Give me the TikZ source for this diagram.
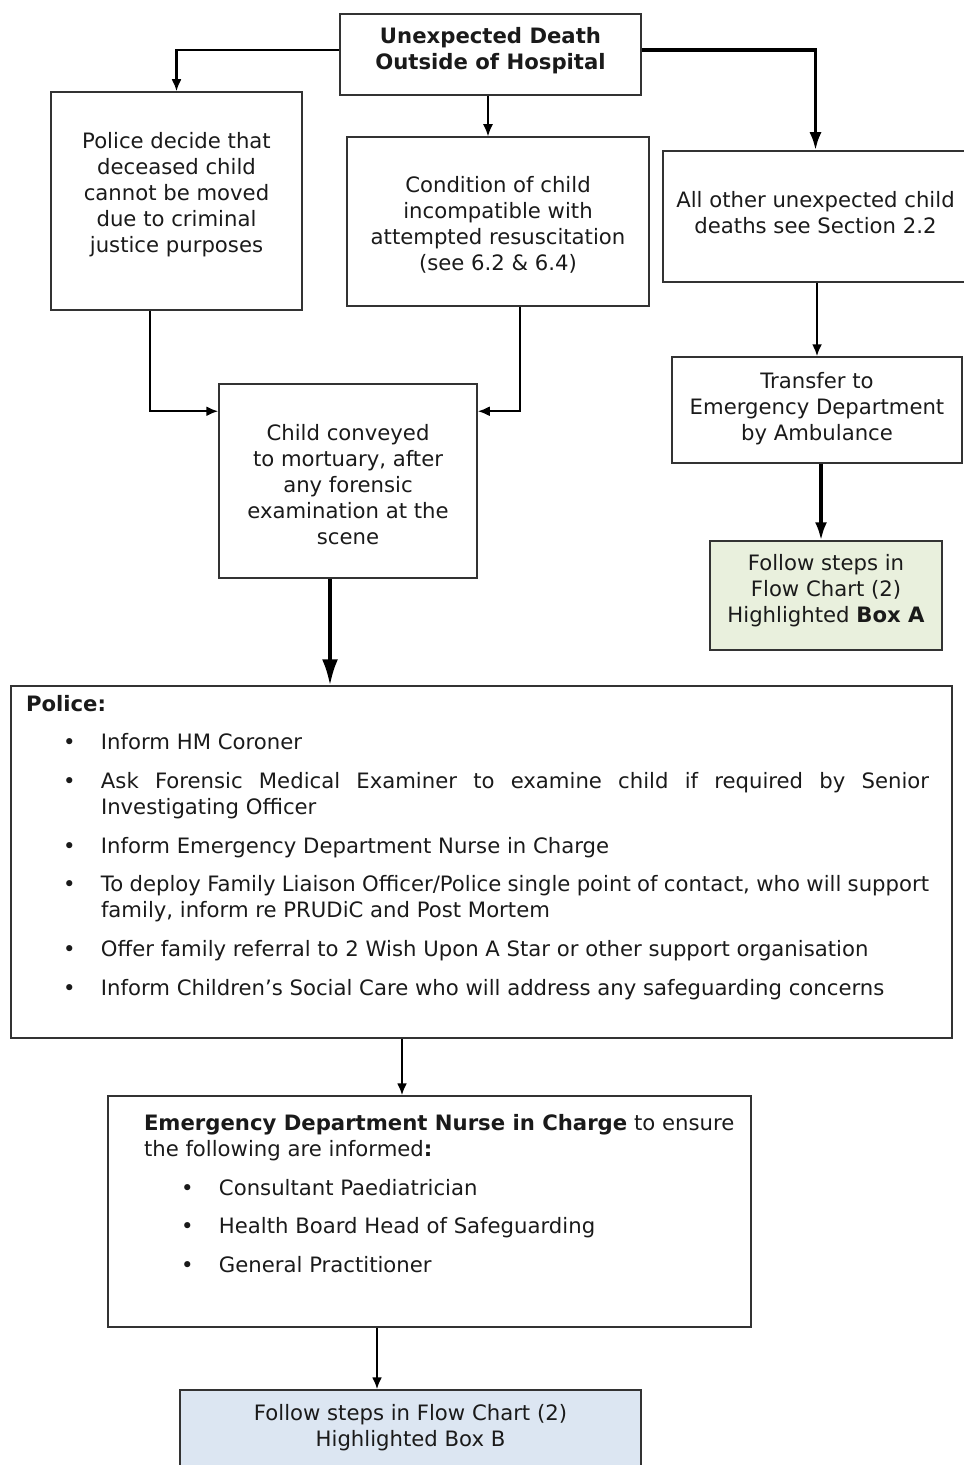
\documentclass[tikz,border=0pt]{standalone}
\usepackage{fontspec}
\setmainfont{DejaVu Sans}
\usetikzlibrary{arrows.meta}

\definecolor{boxline}{HTML}{333333}
\definecolor{textcol}{HTML}{1A1A1A}
\definecolor{boxAfill}{HTML}{E9F0DD}
\definecolor{boxBfill}{HTML}{DCE6F2}

\newcommand{\chartfont}{\fontsize{10.6}{13}\selectfont}
\newcommand{\bul}{\par\hangindent=37.5pt\hangafter=1\noindent\hspace*{18.5pt}\makebox[19pt][l]{\textbullet}}
\newcommand{\padbelow}[1]{\rule[-#1]{0pt}{#1}}	% deeper last line, text sits higher
\newcommand{\padabove}[1]{\rule{0pt}{#1}}		% taller first line, text sits lower

\begin{document}
\begin{tikzpicture}[x = 0.5pt, y = -0.5pt, > = {Latex[length = 6pt, width = 5pt]},
	font = \chartfont, text = textcol,
	box/.style = {draw = boxline, line width = 0.75pt, align = center, inner sep = 2pt},
	panel/.style = {draw = boxline, line width = 0.75pt, inner sep = 0pt},
	link/.style = {->, line width = 1.1pt},
	thinlink/.style = {->, line width = 0.7pt},
	heavylink/.style = {-{Latex[length = 9pt, width = 6pt]}, line width = 1.6pt},
	hugelink/.style = {-{Latex[length = 13pt, width = 8pt]}, line width = 1.6pt}]

	\useasboundingbox (0, 0) rectangle (963, 1465);

	% Top row
	
	\node [box, font = \chartfont\bfseries, minimum width = 150.5pt, minimum height = 40.5pt] (death) at (490.5, 54.5) {Unexpected Death\\Outside of Hospital\padbelow{6.4pt}};
	
	\node [box, minimum width = 125.5pt, minimum height = 109pt] (immovable) at (176.5, 201) {Police decide that\\deceased child\\cannot be moved\\due to criminal\\justice purposes\padbelow{8.4pt}};
	\node [box, minimum width = 151pt, minimum height = 84.5pt] (condition) at (498, 221.5) {\padabove{10.9pt}Condition of child\\incompatible with\\attempted resuscitation\\(see 6.2 \& 6.4)};
	\node [box, minimum width = 152.5pt, minimum height = 65.5pt] (other) at (815.5, 216.5) {All other unexpected child\\deaths see Section 2.2\padbelow{4.2pt}};
	
	% Middle row
	
	\node [box, minimum width = 129pt, minimum height = 97pt] (conveyed) at (348, 481) {\padabove{11.9pt}Child conveyed\\to mortuary, after\\any forensic\\examination at the\\scene};
	\node [box, minimum width = 145pt, minimum height = 53pt] (transfer) at (817, 410) {Transfer to\\Emergency Department\\by Ambulance\padbelow{3.9pt}};
	\node [box, fill = boxAfill, minimum width = 116pt, minimum height = 54.5pt] (followA) at (826, 595.5) {Follow steps in\\Flow Chart (2)\\Highlighted \textbf{Box A}\padbelow{7.4pt}};
	
	% Police actions
	
	\node [panel] (police) at (481.5, 862) {\hspace*{7.5pt}\parbox[c][176pt][t]{451.5pt}{\chartfont\fontsize{10.6}{12.8}\selectfont\setlength{\parskip}{6.6pt}%
		\rule{0pt}{12.5pt}\textbf{Police:}
		\bul Inform HM Coroner
		\bul Ask Forensic Medical Examiner to examine child if required by Senior\linebreak Investigating Officer
		\bul Inform Emergency Department Nurse in Charge
		\bul To deploy Family Liaison Officer/Police single point of contact, who will support\linebreak family, inform re PRUDiC and Post Mortem
		\bul Offer family referral to 2 Wish Upon A Star or other support organisation
		\bul Inform Children’s Social Care who will address any safeguarding concerns}\hspace*{11.5pt}};
	
	% Nurse in charge
	
	\node [panel] (nurse) at (429.5, 1211.5) {\hspace*{18pt}\parbox[c][115.5pt][t]{298pt}{\chartfont\fontsize{10.6}{13.4}\selectfont\setlength{\parskip}{5.8pt}%
		\rule{0pt}{17pt}\textbf{Emergency Department Nurse in Charge} to ensure\newline the following are informed\textbf{:}
		\bul Consultant Paediatrician
		\bul Health Board Head of Safeguarding
		\bul General Practitioner}\hspace*{5.5pt}};
	
	\node [box, fill = boxBfill, minimum width = 230.5pt, minimum height = 42.5pt] (followB) at (410.5, 1432.5) {Follow steps in Flow Chart (2)\\Highlighted Box B\padbelow{7.4pt}};
	
	% Connectors
	
	\draw [link] ([yshift = 2.25pt]death.west) -| (immovable.north);
	\draw [thinlink] ([xshift = -1.25pt]death.south) -- ([xshift = -1.25pt]death.south |- condition.north);
	\draw [heavylink] ([yshift = 2.25pt]death.east) -| (other.north);
	
	\draw [link] ([xshift = -13.25pt]immovable.south) |- ([yshift = -14pt]conveyed.north west);
	\draw [link] ([xshift = 11pt]condition.south) |- ([yshift = -14pt]conveyed.north east);
	
	\draw [link] (transfer.north |- other.south) -- (transfer.north);
	\draw [heavylink] ([xshift = 2pt]transfer.south) -- ([xshift = 2pt]transfer.south |- followA.north);
	
	\draw [hugelink] ([xshift = -9pt]conveyed.south) -- ([xshift = -9pt]conveyed.south |- police.north);
	\draw [link] ([xshift = -39.75pt]police.south) -- ([xshift = -39.75pt]police.south |- nurse.north);
	\draw [link] ([xshift = -26.25pt]nurse.south) -- ([xshift = -26.25pt]nurse.south |- followB.north);

\end{tikzpicture}
\end{document}
